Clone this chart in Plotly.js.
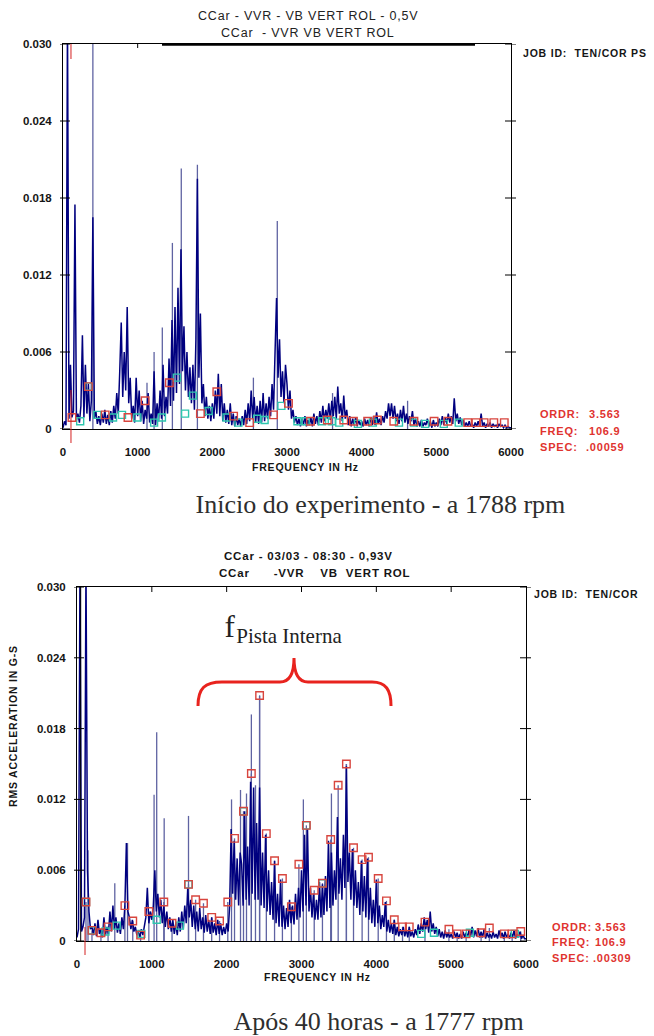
<!DOCTYPE html>
<html><head><meta charset="utf-8">
<script src="https://cdn.plot.ly/plotly-3.0.1.min.js"></script>
<style>
body{margin:0;background:#fff}
#chart{width:654px;height:1036px}
.annotation-text{letter-spacing:0.8px}
.annotation[data-index="0"] .annotation-text,.annotation[data-index="1"] .annotation-text,
.annotation[data-index="2"] .annotation-text,.annotation[data-index="3"] .annotation-text{letter-spacing:0}
</style>
</head><body><div id="chart"></div>
<script>
const W = 654, H = 1036;
// FFT bin spacing (Hz) and amplitude unit of the spectrum arrays (g RMS)
const binHz = 20;
const ampUnit = 0.0001;

const xTicks = [0,1000,2000,3000,4000,5000,6000];
const xTickText = ['0','1000','2000','3000','4000','5000','6000'];
const yTicks = [0,0.006,0.012,0.018,0.024,0.030];
const yTickText = ['0','0.006','0.012','0.018','0.024','0.030'];

// ---- Chart 1 : start of experiment (1788 rpm), amplitudes in 1e-4 g, bins of 20 Hz
const spec1 = [
1,6,3,320,8,50,9,14,175,7,
12,5,18,73,9,50,12,35,6,22,
165,8,14,4,10,3,12,5,15,4,
11,3,14,5,18,8,28,12,45,83,
25,60,30,95,20,40,8,18,5,40,
10,30,6,22,4,15,8,28,5,12,
4,45,3,20,6,30,8,50,10,25,
12,55,18,85,22,95,28,110,35,140,
45,80,30,60,25,48,20,50,15,70,
195,40,90,20,35,10,25,8,18,6,
20,8,30,12,43,10,35,6,20,5,
15,4,20,3,12,2,10,3,8,2,
10,3,15,4,20,6,30,8,25,5,
18,4,22,5,28,6,20,8,25,10,
35,15,60,102,40,70,25,45,20,50,
35,15,30,8,15,5,10,3,8,2,
8,3,10,2,7,3,9,2,12,4,
10,3,14,5,18,6,15,8,20,7,
22,10,25,8,33,12,20,6,26,8,
15,3,10,2,8,3,9,2,7,3,
6,2,8,3,7,2,9,3,10,3,
13,4,8,3,10,5,14,8,20,10,
20,8,18,6,12,4,15,6,18,5,
12,4,10,6,14,3,8,2,6,2,
7,2,5,3,8,2,6,1,7,2,
5,2,8,3,10,3,9,4,12,5,
10,4,24,6,12,4,9,3,7,2,
5,2,6,2,4,1,5,2,6,2,
12,2,5,1,4,2,5,1,4,2,
3,1,4,2,3,1,3,1,2,1,1];
const spike1Hz  = [400, 1125, 1220, 1330, 1465, 1584, 1800, 2550, 2870, 3610, 4615];
const spike1Amp = [0.031,0.0036,0.006,0.0079,0.0145,0.0203,0.0206,0.004,0.0162,0.0028,0.0022];
const red1Hz  = [120,340,565,870,1100,1425,1840,2060,2285,2500,2820,3020,3315,3540,3760,3890,4080,4210,4430,4700,4970,5155,5420,5530,5640,5770,5910];
const red1Amp = [0.0009,0.0033,0.0011,0.0009,0.0022,0.0036,0.0012,0.0029,0.001,0.0005,0.0011,0.002,0.0006,0.0007,0.0007,0.0006,0.0006,0.0007,0.0006,0.0006,0.0006,0.0006,0.0005,0.0005,0.0005,0.0005,0.0005];
const cyan1Hz  = [230,340,460,670,790,995,1220,1325,1525,1635,1740,1950,2190,2350,2600,2700,2925,3140,3250,3470,3600,3700,3950,4150,4500,4700,4850,5100,5300];
const cyan1Amp = [0.0006,0.0033,0.0011,0.0009,0.0011,0.0009,0.0005,0.0009,0.004,0.0012,0.0026,0.0014,0.0009,0.0005,0.0008,0.0007,0.0018,0.0006,0.0006,0.0006,0.0006,0.0005,0.0004,0.0005,0.0005,0.0005,0.0004,0.0004,0.0005];

// ---- Chart 2 : after 40 hours (1777 rpm)
const spec2 = [
3,10,320,8,12,20,320,60,25,10,
12,5,15,4,18,6,10,3,20,5,
12,6,25,8,30,10,20,7,15,6,
20,10,30,83,25,20,10,18,8,12,
5,8,3,10,5,15,20,45,15,25,
18,30,60,25,40,20,35,15,30,12,
25,10,20,8,18,6,15,5,20,8,
25,10,30,15,45,20,35,12,30,10,
25,8,28,10,20,7,22,8,18,6,
20,7,15,5,18,6,15,5,12,6,
15,8,30,95,40,85,35,70,30,75,
65,30,110,35,80,30,135,40,130,35,
100,35,130,30,75,28,90,25,60,22,
50,18,68,15,40,12,52,12,30,10,
28,12,35,15,30,14,40,18,45,20,
60,25,90,30,95,25,45,20,40,18,
35,18,50,20,48,22,55,25,85,28,
75,30,60,35,105,40,70,35,90,45,
148,50,75,35,78,30,60,28,50,22,
68,25,55,20,70,18,45,15,35,12,
52,15,30,10,22,12,33,8,18,7,
15,6,18,5,12,4,10,5,12,4,
10,3,12,4,8,3,10,5,14,6,
15,8,20,10,18,7,25,8,15,6,
12,4,10,3,8,2,9,3,7,3,
6,2,8,3,7,2,6,2,8,3,
7,3,10,4,12,3,9,4,11,3,
8,3,10,2,7,3,6,2,8,3,
6,2,9,3,7,2,8,3,6,2,
7,3,9,2,6,3,8,2,5,2,2];
const spike2Hz  = [147,505,675,1030,1065,1165,1490,2065,2185,2265,2330,2385,2440,3025,3400,3600];
const spike2Amp = [0.0077,0.0049,0.0083,0.0124,0.0177,0.0104,0.0106,0.012,0.0128,0.0125,0.0192,0.0132,0.0208,0.012,0.0125,0.015];
const red2Hz  = [120,200,320,415,640,745,850,960,1160,1270,1490,1585,1690,1800,1905,2015,2105,2225,2330,2440,2530,2640,2745,2865,2965,3065,3170,3280,3390,3490,3600,3695,3810,3895,4025,4135,4240,4350,4440,4650,4970,5080,5200,5400,5510,5710,5815,5930];
const red2Amp = [0.0033,0.0009,0.0007,0.0012,0.003,0.0017,0.0005,0.0025,0.0033,0.0015,0.0048,0.0035,0.0032,0.002,0.0017,0.0033,0.0087,0.011,0.0142,0.0208,0.0091,0.0068,0.0053,0.0029,0.0065,0.0098,0.0043,0.0049,0.0086,0.0132,0.015,0.0079,0.0069,0.0071,0.0053,0.0034,0.0018,0.0012,0.0012,0.0016,0.001,0.0006,0.0006,0.0007,0.0011,0.0006,0.0006,0.0008];
const cyan2Hz  = [120,200,380,530,860,1065,1375,1490,2225,3065,3280,4600,4770,5250,5850];
const cyan2Amp = [0.0033,0.0009,0.0008,0.0013,0.0006,0.0018,0.0013,0.0048,0.011,0.0098,0.0049,0.0006,0.0007,0.0007,0.0006];

const cursorHz = 106.9;

// ---------- helpers
const px = v => v / W, py = v => 1 - v / H;
function stems(hz, amp){ const x=[],y=[]; hz.forEach((f,i)=>{x.push(f,f,null); y.push(0,amp[i],null);}); return {x,y}; }
const NAVY='#00007f', SLATE='#5f63a2', RED='#d8453e', CYAN='#2ec6ae', TXTRED='#e0332f';

function spectrumTraces(spec, sHz, sAmp, rHz, rAmp, cHz, cAmp, xa, ya, redStems){
  const tr = [];
  const s = stems(sHz, sAmp);
  tr.push({x:s.x, y:s.y, mode:'lines', line:{color:SLATE,width:1.3}, xaxis:xa, yaxis:ya, hoverinfo:'skip'});
  if (redStems){ const r = stems(rHz, rAmp); tr.push({x:r.x, y:r.y, mode:'lines', line:{color:SLATE,width:1.3}, xaxis:xa, yaxis:ya, hoverinfo:'skip'}); }
  tr.push({x:spec.map((v,i)=>i*binHz), y:spec.map(v=>v*ampUnit), mode:'lines', line:{color:NAVY,width:1.5}, xaxis:xa, yaxis:ya});
  tr.push({x:cHz, y:cAmp, mode:'markers', marker:{symbol:'square-open', size:7, color:CYAN, line:{width:1.4}}, xaxis:xa, yaxis:ya});
  tr.push({x:rHz, y:rAmp, mode:'markers', marker:{symbol:'square-open', size:7.5, color:RED, line:{width:1.4}}, xaxis:xa, yaxis:ya});
  return tr;
}

const data = [
  ...spectrumTraces(spec1, spike1Hz, spike1Amp, red1Hz, red1Amp, cyan1Hz, cyan1Amp, 'x', 'y', false),
  ...spectrumTraces(spec2, spike2Hz, spike2Amp, red2Hz, red2Amp, cyan2Hz, cyan2Amp, 'x2', 'y2', true)
];

const P1 = {x0:63, x1:511, y0:44, y1:429};
const P2 = {x0:77, x1:526, y0:587, y1:941};
const tickFont = {family:'Liberation Sans, Arial, sans-serif', size:11.5, weight:'bold', color:'#151515'};

function xax(P, anchor){ return {domain:[px(P.x0), px(P.x1)], range:[0,6000], anchor, showline:true, linecolor:'#000', linewidth:1, mirror:true,
  ticks:'', showgrid:false, zeroline:false, tickvals:xTicks, ticktext:xTickText, tickfont:tickFont, ticklabelstandoff:12, fixedrange:true}; }
function yax(P, anchor){ return {domain:[py(P.y1), py(P.y0)], range:[0,0.030], anchor, showline:true, linecolor:'#000', linewidth:1, mirror:true,
  ticks:'', showgrid:false, zeroline:false, tickvals:yTicks, ticktext:yTickText, tickfont:tickFont, ticklabelstandoff:8, fixedrange:true}; }

const shapes = [];
function yTickShapes(P, ya){
  yTicks.forEach(v=>{
    shapes.push({type:'line', xref:'paper', yref:ya, x0:px(P.x0-3), x1:px(P.x0+7), y0:v, y1:v, line:{color:'#000',width:1}});
    shapes.push({type:'line', xref:'paper', yref:ya, x0:px(P.x1-6), x1:px(P.x1+5), y0:v, y1:v, line:{color:'#000',width:1}});
  });
}
yTickShapes(P1,'y'); yTickShapes(P2,'y2');
// top tick(s)
shapes.push({type:'line', xref:'x', yref:'paper', x0:xTicks[1], x1:xTicks[1], y0:py(P1.y0-1), y1:py(P1.y0+4), line:{color:'#000',width:1}});
xTicks.slice(1,6).forEach(v=>shapes.push({type:'line', xref:'x2', yref:'paper', x0:v, x1:v, y0:py(P2.y0), y1:py(P2.y0+5), line:{color:'#000',width:1}}));
// thick part of chart 1 top border
shapes.push({type:'line', xref:'paper', yref:'paper', x0:px(162), x1:px(475), y0:py(44.5), y1:py(44.5), line:{color:'#000',width:2.5}});
// second left border line of chart 2
shapes.push({type:'line', xref:'paper', yref:'paper', x0:px(80.7), x1:px(80.7), y0:py(P2.y0), y1:py(P2.y1), line:{color:'#000',width:1}});
// cursor lines at the FREQ value
shapes.push({type:'line', xref:'x', yref:'paper', x0:cursorHz, x1:cursorHz, y0:py(390), y1:py(443), line:{color:'#d42020',width:1}});
shapes.push({type:'line', xref:'x', yref:'paper', x0:cursorHz, x1:cursorHz, y0:py(44), y1:py(59), line:{color:'#d42020',width:1}});
shapes.push({type:'line', xref:'x2', yref:'paper', x0:cursorHz, x1:cursorHz, y0:py(927), y1:py(955), line:{color:'#d42020',width:1}});
// red brace
const bp = [[198,706],[198,688],[205,682],[222,682],[280,682],[290,682],[294,672],[294,658],[294,672],[298,682],[308,682],[372,682],[386,682],[391,690],[391,706]]
  .map(p=>px(p[0]).toFixed(5)+','+py(p[1]).toFixed(5));
const bracePath = `M${bp[0]} C${bp[1]} ${bp[2]} ${bp[3]} L${bp[4]} C${bp[5]} ${bp[6]} ${bp[7]} C${bp[8]} ${bp[9]} ${bp[10]} L${bp[11]} C${bp[12]} ${bp[13]} ${bp[14]}`;
shapes.push({type:'path', xref:'paper', yref:'paper', path:bracePath, line:{color:'#e8231e',width:3}});

const SERIF = 'Liberation Serif, Times New Roman, serif';
const NARROW = 'Liberation Sans Narrow, Arial Narrow, Liberation Sans, sans-serif';
const SANS = 'Liberation Sans, Arial, sans-serif';
function ann(text, x, y, font, xanchor='center', extra={}){
  return Object.assign({text, x:px(x), y:py(y), xref:'paper', yref:'paper', showarrow:false, xanchor, yanchor:'middle', font}, extra);
}
const boldF = (s,c='#151515') => ({family:SANS, size:s, weight:'bold', color:c});
const annotations = [
  ann('Início do experimento - a 1788 rpm', 380, 504, {family:SERIF, size:26, color:'#2e2e2e'}),
  ann('Após 40 horas - a 1777 rpm', 378, 1021, {family:SERIF, size:26, color:'#2e2e2e'}),
  ann('f', 222, 626, {family:SERIF, size:31, color:'#222'}, 'left'),
  ann('Pista Interna', 229, 636, {family:SERIF, size:21, color:'#222'}, 'left'),
  ann('CCar - VVR - VB VERT ROL - 0,5V', 308, 16, {family:NARROW, size:12.5, color:'#222'}),
  ann('CCar\u00a0 - VVR VB VERT ROL', 308, 33, {family:NARROW, size:12.5, color:'#222'}),
  ann('CCar - 03/03 - 08:30 - 0,93V', 308, 556, {family:NARROW, size:11.5, weight:'bold', color:'#151515'}),
  ann('CCar\u00a0\u00a0\u00a0\u00a0\u00a0 -VVR\u00a0\u00a0\u00a0 VB\u00a0 VERT ROL', 314, 573, {family:NARROW, size:11.5, weight:'bold', color:'#151515'}),
  ann('JOB ID:\u00a0 TEN/COR PS', 521, 53, boldF(10.5), 'left'),
  ann('JOB ID:\u00a0 TEN/COR', 532, 594, boldF(10.5), 'left'),
  ann('FREQUENCY IN Hz', 305, 467, boldF(10.5)),
  ann('FREQUENCY IN Hz', 317, 977, boldF(10.5)),
  ann('RMS ACCELERATION IN G-S', 13, 726, boldF(10.5), 'center', {textangle:-90}),
  ann('ORDR:', 538, 414, boldF(11,TXTRED), 'left'), ann('3.563', 623, 414, boldF(11,TXTRED), 'right'),
  ann('FREQ:', 538, 431, boldF(11,TXTRED), 'left'), ann('106.9', 623, 431, boldF(11,TXTRED), 'right'),
  ann('SPEC:', 538, 447, boldF(11,TXTRED), 'left'), ann('.00059', 626, 447, boldF(11,TXTRED), 'right'),
  ann('ORDR:', 550, 927, boldF(11,TXTRED), 'left'), ann('3.563', 629, 927, boldF(11,TXTRED), 'right'),
  ann('FREQ:', 550, 942, boldF(11,TXTRED), 'left'), ann('106.9', 629, 942, boldF(11,TXTRED), 'right'),
  ann('SPEC:', 550, 958, boldF(11,TXTRED), 'left'), ann('.00309', 633, 958, boldF(11,TXTRED), 'right')
];

const layout = {
  width:W, height:H, margin:{l:0,r:0,t:0,b:0}, showlegend:false,
  paper_bgcolor:'#fff', plot_bgcolor:'#fff',
  xaxis:xax(P1,'y'), yaxis:yax(P1,'x'), xaxis2:xax(P2,'y2'), yaxis2:yax(P2,'x2'),
  shapes, annotations
};
Plotly.newPlot('chart', data, layout, {displayModeBar:false, staticPlot:true});
</script>
</body></html>
